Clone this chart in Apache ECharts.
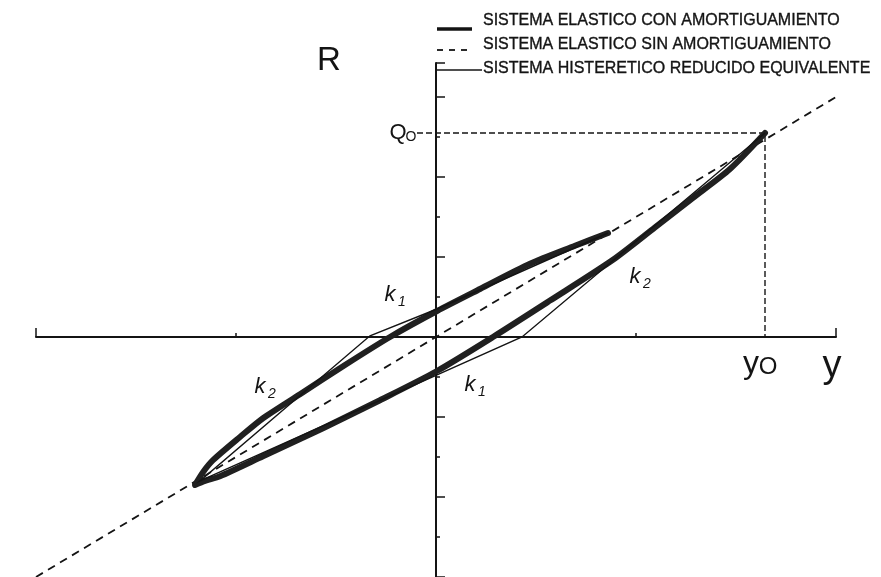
<!DOCTYPE html>
<html>
<head>
<meta charset="utf-8">
<script src="https://cdn.jsdelivr.net/npm/echarts@6/dist/echarts.min.js"></script>
<style>
  html, body { margin: 0; padding: 0; background: #ffffff; }
  #chart { width: 881px; height: 577px; }
</style>
</head>
<body>
<div id="chart"></div>
<script>
// Legend entries
const legendLabels = [
  'SISTEMA ELASTICO CON AMORTIGUAMIENTO',
  'SISTEMA ELASTICO SIN AMORTIGUAMIENTO',
  'SISTEMA HISTERETICO REDUCIDO EQUIVALENTE'
];

// Peak response: displacement y0 and force Q0
const peakDisplacement = 3.29;
const peakForce = 5.1;

// Damped elastic response: from the peak down the lower branch,
// round the negative tip, then back up the upper branch
const dampedLoop = [
  [peakDisplacement, peakForce],
  [2.94, 4.2], [2.57, 3.48], [2.19, 2.74], [1.77, 1.93], [1.14, 0.91],
  [0.57, 0], [0.01, -0.85], [-0.56, -1.58], [-1.13, -2.28], [-1.73, -2.98],
  [-2.16, -3.48], [-2.31, -3.6], [-2.41, -3.7], [-2.33, -3.38], [-2.23, -3.08],
  [-1.96, -2.5], [-1.73, -2.03], [-1.36, -1.43], [-0.91, -0.7], [-0.46, 0],
  [0.01, 0.65], [0.44, 1.2], [0.94, 1.83], [1.39, 2.28], [1.72, 2.6]
];

// Undamped elastic line through the origin
const undampedLine = [[-4, -6], [4, 6]];

// Reduced equivalent hysteretic (bilinear) path
const hystereticLoop = [
  [peakDisplacement, peakForce],
  [0.86, 0], [-2.36, -3.6], [-0.66, 0.03], [0.01, 0.7], [1.72, 2.6]
];

// Slope annotations: stiffness name, subscript, anchor in data units
const slopeNotes = [
  ['k', '1', [-0.42, 1.0]],
  ['k', '1', [0.38, -1.25]],
  ['k', '2', [-1.72, -1.3]],
  ['k', '2', [2.03, 1.45]]
];

const INK = '#141414';
const FONT = '"Liberation Sans", Arial, sans-serif';

const chart = echarts.init(document.getElementById('chart'), null, { renderer: 'canvas' });

const option = {
  animation: false,
  backgroundColor: '#ffffff',
  grid: { left: 36, right: 45, top: 63, bottom: 0, containLabel: false },
  xAxis: {
    type: 'value', min: -4, max: 4, interval: 4,
    axisLine: { onZero: true, lineStyle: { color: INK, width: 2 } },
    axisTick: { show: true, inside: true, length: 9, lineStyle: { color: INK, width: 1.5 } },
    minorTick: { show: true, splitNumber: 2, length: 4, lineStyle: { color: INK, width: 1.5 } },
    axisLabel: { show: false },
    splitLine: { show: false }
  },
  yAxis: {
    type: 'value', min: -6, max: 6.85, interval: 2,
    axisLine: { onZero: true, lineStyle: { color: INK, width: 2 } },
    axisTick: { show: true, inside: true, length: 9, lineStyle: { color: INK, width: 1.5 } },
    minorTick: { show: true, splitNumber: 2, length: 4, lineStyle: { color: INK, width: 1.5 } },
    axisLabel: { show: false },
    splitLine: { show: false }
  },
  series: [
    {
      name: legendLabels[1], type: 'line', data: undampedLine, symbol: 'none', z: 2,
      lineStyle: { color: INK, width: 1.8, type: [8, 6] }
    },
    {
      name: 'guideQ', type: 'line', symbol: 'none', z: 2,
      data: [[-0.19, peakForce], [peakDisplacement, peakForce], [peakDisplacement, 0]],
      lineStyle: { color: INK, width: 1.4, type: [6, 3] }
    },
    {
      name: legendLabels[0], type: 'line', data: dampedLoop, symbol: 'none', z: 3,
      smooth: 0.25,
      lineStyle: { color: '#202020', width: 6, cap: 'round', join: 'round' }
    },
    {
      name: legendLabels[2], type: 'line', data: hystereticLoop, symbol: 'none', z: 4,
      lineStyle: { color: INK, width: 1.4, join: 'miter' }
    }
  ]
};

chart.setOption(option);

// Annotations placed from the axis scales
const px = (p) => chart.convertToPixel({ gridIndex: 0 }, p);
const origin = px([0, 0]);
const peakPx = px([peakDisplacement, peakForce]);

function txt(text, x, y, size, opts) {
  const o = opts || {};
  return {
    type: 'text', z: 10,
    style: {
      text: text, x: x, y: y,
      font: (o.italic ? 'italic ' : '') + size + 'px ' + FONT,
      fill: INK,
      stroke: o.heavy ? INK : null, lineWidth: o.heavy ? 0.35 : 0,
      align: o.align || 'left', textAlign: o.align || 'left',
      verticalAlign: 'middle', textVerticalAlign: 'middle'
    }
  };
}

const graphics = [];

// Legend
const legendRows = [21, 45, 69];
graphics.push({ type: 'line', z: 10, shape: { x1: origin[0] + 1, y1: 29, x2: origin[0] + 36, y2: 29 }, style: { stroke: INK, lineWidth: 3.5 } });
graphics.push({ type: 'line', z: 10, shape: { x1: origin[0] + 1, y1: 50, x2: origin[0] + 36, y2: 50 }, style: { stroke: INK, lineWidth: 1.8, lineDash: [6, 6] } });
graphics.push({ type: 'line', z: 10, shape: { x1: origin[0], y1: 70, x2: origin[0] + 46, y2: 70 }, style: { stroke: INK, lineWidth: 1.3 } });
legendLabels.forEach((label, i) => {
  graphics.push(txt(label, 483, legendRows[i], 16, { heavy: true }));
});

// Axis titles
graphics.push(txt('R', origin[0] - 107, 61, 33, { align: 'center' }));
graphics.push(txt('y', origin[0] + 396, 367, 38, { align: 'center' }));

// Peak labels
graphics.push(txt('Q', origin[0] - 38, peakPx[1], 22, { align: 'center' }));
graphics.push(txt('O', origin[0] - 25, peakPx[1] + 4, 14, { align: 'center' }));
graphics.push(txt('y', peakPx[0] - 14, 364, 32, { align: 'center' }));
graphics.push(txt('O', peakPx[0] + 3, 367, 24, { align: 'center' }));

// Stiffness labels
slopeNotes.forEach(([name, sub, at]) => {
  const p = px(at);
  graphics.push(txt(name, p[0] - 4, p[1] - 2, 22, { align: 'center', italic: true }));
  graphics.push(txt(sub, p[0] + 8, p[1] + 5, 14, { align: 'center', italic: true }));
});

chart.setOption({ graphic: { elements: graphics } });
</script>
</body>
</html>
